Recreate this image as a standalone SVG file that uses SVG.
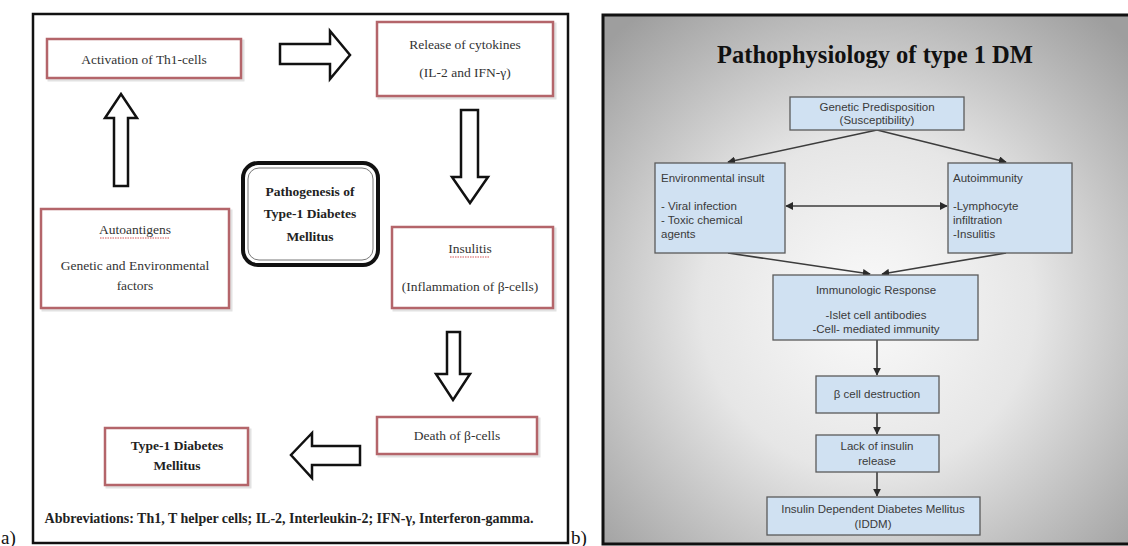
<svg xmlns="http://www.w3.org/2000/svg" width="1128" height="546" viewBox="0 0 1128 546">
<style>
.frame{fill:#fff;stroke:#111;stroke-width:2.5}
.red{fill:#fff;stroke:#b4656a;stroke-width:2.5}
.shd{fill:none;stroke:#e2e2e2;stroke-width:3}
.serif{font-family:"Liberation Serif","Times New Roman",serif;font-size:13.5px;fill:#333}
.bold{font-weight:bold;fill:#222}
.blk{fill:#fff;stroke:#111;stroke-width:2.5;stroke-linejoin:miter}
.blue{fill:#d0e1f2;stroke:#5a5a5a;stroke-width:1.3}
.sans{font-family:"Liberation Sans",Arial,sans-serif;font-size:11.5px;fill:#3a3a3a}
.conn{stroke:#3c3c3c;stroke-width:1.6;fill:none}
.squig{fill:none;stroke:#d04040;stroke-width:0.9;stroke-dasharray:1.5 1}
.lbl{font-family:"Liberation Serif","Times New Roman",serif;font-size:19px;fill:#111}
</style>
<defs>
<radialGradient id="bg" cx="50%" cy="55%" r="70%">
<stop offset="0" stop-color="#fafafa"/>
<stop offset="0.45" stop-color="#e6e6e6"/>
<stop offset="1" stop-color="#9e9e9e"/>
</radialGradient>
<marker id="ah" viewBox="0 0 10 10" refX="9" refY="5" markerWidth="5" markerHeight="5" orient="auto-start-reverse">
<path d="M0,0 L10,5 L0,10 z" fill="#2a2a2a"/>
</marker>
</defs>
<rect width="1128" height="546" fill="#fff"/>
<rect class="frame" x="33" y="14" width="535" height="529"/>
<text class="lbl" x="1" y="544">a)</text>
<rect x="603" y="15" width="530" height="529" fill="url(#bg)" stroke="#111" stroke-width="3"/>
<text class="lbl" x="571" y="544">b)</text>
<text x="875" y="63" text-anchor="middle" style="font-family:'Liberation Serif','Times New Roman',serif;font-size:24.5px;font-weight:bold;fill:#111">Pathophysiology of type 1 DM</text>

<g id="connectors">
<polygon class="blk" points="114,186 114,118 105,118 121,94 137,118 128,118 128,186"/>
<polygon class="blk" points="280,44 330,44 330,31 350,55 330,79 330,64 280,64"/>
<polygon class="blk" points="461,110 478,110 478,177 488,177 470,203 452,177 461,177"/>
<polygon class="blk" points="447,332 460,332 460,374 470,374 453,400 436,374 447,374"/>
<polygon class="blk" points="360,446 312,446 312,433 291,455 312,478 312,465 360,465"/>
<path class="conn" d="M877,130 L728,162" marker-end="url(#ah)"/>
<path class="conn" d="M877,130 L1006,162" marker-end="url(#ah)"/>
<path class="conn" d="M786,206 L947,206" marker-start="url(#ah)" marker-end="url(#ah)"/>
<path class="conn" d="M728,253 L870,274" marker-end="url(#ah)"/>
<path class="conn" d="M1006,253 L882,274" marker-end="url(#ah)"/>
<path class="conn" d="M877,340 L877,375" marker-end="url(#ah)"/>
<path class="conn" d="M877,413 L877,434" marker-end="url(#ah)"/>
<path class="conn" d="M877,472 L877,496" marker-end="url(#ah)"/>
</g>

<g id="activation">
<rect class="shd" x="49" y="41" width="194" height="39"/>
<rect class="red" x="47" y="39" width="194" height="39"/>
<text class="serif" x="144" y="64" text-anchor="middle">Activation of Th1-cells</text>
</g>
<g id="release">
<rect class="shd" x="379" y="24" width="176" height="74"/>
<rect class="red" x="377" y="22" width="176" height="74"/>
<text class="serif" x="465" y="49" text-anchor="middle">Release of cytokines</text>
<text class="serif" x="465" y="77" text-anchor="middle">(IL-2 and IFN-γ)</text>
</g>
<g id="pathogenesis">
<rect x="243" y="163" width="135" height="102" rx="15" fill="#fff" stroke="#111" stroke-width="4"/>
<rect x="248" y="168" width="125" height="92" rx="11" fill="none" stroke="#777" stroke-width="1"/>
<text class="serif bold" x="310" y="196" text-anchor="middle">Pathogenesis of</text>
<text class="serif bold" x="310" y="218" text-anchor="middle">Type-1 Diabetes</text>
<text class="serif bold" x="310" y="241" text-anchor="middle">Mellitus</text>
</g>
<g id="autoantigens">
<rect class="shd" x="43" y="211" width="188" height="99"/>
<rect class="red" x="41" y="209" width="188" height="99"/>
<text class="serif" x="135" y="234" text-anchor="middle">Autoantigens</text>
<path class="squig" d="M100,238 L170,238"/>
<text class="serif" x="135" y="270" text-anchor="middle">Genetic and Environmental</text>
<text class="serif" x="135" y="290" text-anchor="middle">factors</text>
</g>
<g id="insulitis">
<rect class="shd" x="394" y="229" width="161" height="81"/>
<rect class="red" x="392" y="227" width="161" height="81"/>
<text class="serif" x="470" y="253" text-anchor="middle">Insulitis</text>
<path class="squig" d="M450,257 L490,257"/>
<text class="serif" x="470" y="291" text-anchor="middle">(Inflammation of β-cells)</text>
</g>
<g id="death">
<rect class="shd" x="379" y="419" width="160" height="37"/>
<rect class="red" x="377" y="417" width="160" height="37"/>
<text class="serif" x="457" y="440" text-anchor="middle">Death of β-cells</text>
</g>
<g id="type1dm">
<rect class="shd" x="107" y="430" width="143" height="57"/>
<rect class="red" x="105" y="428" width="143" height="57"/>
<text class="serif bold" x="177" y="450" text-anchor="middle">Type-1 Diabetes</text>
<text class="serif bold" x="177" y="470" text-anchor="middle">Mellitus</text>
</g>
<text class="serif bold" x="289" y="523" text-anchor="middle" style="font-size:14px">Abbreviations: Th1, T helper cells; IL-2, Interleukin-2; IFN-γ, Interferon-gamma.</text>

<g id="genetic">
<rect class="blue" x="790" y="97" width="174" height="33"/>
<text class="sans" x="877" y="111" text-anchor="middle">Genetic Predisposition</text>
<text class="sans" x="877" y="124" text-anchor="middle">(Susceptibility)</text>
</g>
<g id="environmental">
<rect class="blue" x="655" y="163" width="130" height="90"/>
<text class="sans" x="661" y="182">Environmental insult</text>
<text class="sans" x="661" y="210">- Viral infection</text>
<text class="sans" x="661" y="224">- Toxic chemical</text>
<text class="sans" x="661" y="238">agents</text>
</g>
<g id="autoimmunity">
<rect class="blue" x="948" y="163" width="124" height="90"/>
<text class="sans" x="953" y="182">Autoimmunity</text>
<text class="sans" x="953" y="210">-Lymphocyte</text>
<text class="sans" x="953" y="224">infiltration</text>
<text class="sans" x="953" y="238">-Insulitis</text>
</g>
<g id="immunologic">
<rect class="blue" x="773" y="275" width="205" height="65"/>
<text class="sans" x="876" y="294" text-anchor="middle">Immunologic Response</text>
<text class="sans" x="876" y="319" text-anchor="middle">-Islet cell antibodies</text>
<text class="sans" x="876" y="333" text-anchor="middle">-Cell- mediated immunity</text>
</g>
<g id="beta">
<rect class="blue" x="816" y="376" width="123" height="37"/>
<text class="sans" x="877" y="398" text-anchor="middle">β cell destruction</text>
</g>
<g id="lack">
<rect class="blue" x="816" y="435" width="123" height="37"/>
<text class="sans" x="877" y="450" text-anchor="middle">Lack of insulin</text>
<text class="sans" x="877" y="465" text-anchor="middle">release</text>
</g>
<g id="iddm">
<rect class="blue" x="767" y="497" width="213" height="38"/>
<text class="sans" x="873" y="513" text-anchor="middle">Insulin Dependent Diabetes Mellitus</text>
<text class="sans" x="873" y="528" text-anchor="middle">(IDDM)</text>
</g>
</svg>
